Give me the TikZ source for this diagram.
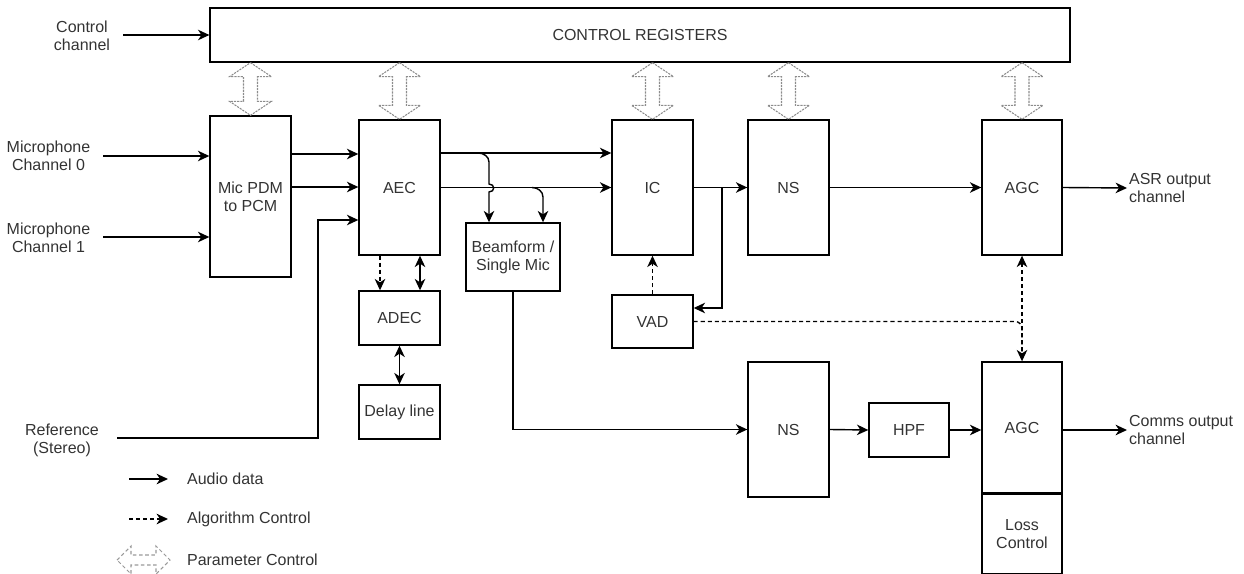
\documentclass[tikz,border=0pt]{standalone}
\usepackage{fontspec}
\setmainfont{Liberation Sans}
\usetikzlibrary{positioning, arrows.meta, calc}
\newcommand{\lbl}{\fontsize{9.1}{10.2}\selectfont\color{black!80}}

\begin{document}
\begin{tikzpicture}[x=0.02cm, y=-0.02cm,
  >={Stealth[length=6.5pt, width=6pt, inset=2pt]},
  blk/.style={draw, line width=0.8pt, inner sep=0pt, align=center, font=\lbl},
  txt/.style={align=center, inner sep=1pt, font=\lbl},
  aud/.style={->, line width=0.8pt},
  alg/.style={line width=0.8pt, dash pattern=on 2.3pt off 1.7pt},
  pctl/.style={draw=black!45, line width=0.6pt, dash pattern=on 1.2pt off 0.6pt},
  pleg/.style={draw=black!40, line width=0.6pt, dash pattern=on 2pt off 1.5pt}]
\useasboundingbox (0,0) rectangle (1244,574);
% blocks
\node[blk, minimum width=17.2cm, minimum height=1.08cm] (regs) at (640,35) {CONTROL REGISTERS};
\node[blk, minimum width=1.62cm, minimum height=3.22cm] (pdm) at (250.5,196.5) {Mic PDM\\to PCM};
\node[blk, minimum width=1.62cm, minimum height=2.7cm] (aec) at (399.5,187.5) {AEC};
\node[blk, minimum width=1.62cm, minimum height=1.08cm] (adec) at (399.5,318) {ADEC};
\node[blk, minimum width=1.62cm, minimum height=1.08cm] (delay) at (399.5,412) {Delay line};
\node[blk, minimum width=1.88cm, minimum height=1.36cm] (beam) at (513,257) {Beamform /\\Single Mic};
\node[blk, minimum width=1.62cm, minimum height=2.7cm] (ic) at (652.5,187.5) {IC};
\node[blk, minimum width=1.62cm, minimum height=1.06cm] (vad) at (652.5,321.5) {VAD};
\node[blk, minimum width=1.62cm, minimum height=2.7cm] (ns1) at (788.5,187.5) {NS};
\node[blk, minimum width=1.6cm, minimum height=2.7cm] (agc1) at (1022,187.5) {AGC};
\node[blk, minimum width=1.62cm, minimum height=2.7cm] (ns2) at (788.5,429.5) {NS};
\node[blk, minimum width=1.6cm, minimum height=1.08cm] (hpf) at (909,430) {HPF};
\node[blk, minimum width=1.6cm, minimum height=2.62cm] (agc2) at (1022,427.5) {AGC};
\node[blk, minimum width=1.6cm, minimum height=1.58cm, below=0pt of agc2] (loss) {Loss\\Control};
% labels
\node[txt] (ctl) at (82,36) {Control\\channel};
\node[txt] (mic0) at (48.5,156) {Microphone\\Channel 0};
\node[txt] (mic1) at (48.5,238) {Microphone\\Channel 1};
\node[txt] (ref) at (62,440) {Reference\\(Stereo)};
\node[txt, anchor=west, align=left] (asr) at (1127,188) {ASR output\\channel};
\node[txt, anchor=west, align=left] (comms) at (1127,430) {Comms output\\channel};
\node[txt, anchor=west] (lgaud) at (185,479) {Audio data};
\node[txt, anchor=west] (lgalg) at (185,519) {Algorithm Control};
\node[txt, anchor=west] (lgpar) at (185,560) {Parameter Control};
\coordinate (ctlin) at (123,35);
\coordinate (mic0in) at (103,156);
\coordinate (mic1in) at (103,237);
\coordinate (refin) at (117,438);
\coordinate (refup) at (318,220);
% inputs
\draw[aud] (ctlin) -- (regs.west |- ctlin);
\draw[aud] (mic0in) -- (pdm.west |- mic0in);
\draw[aud] (mic1in) -- (pdm.west |- mic1in);
\draw[aud] (pdm.east |- 0,154) -- (aec.west |- 0,154);
\draw[aud] (pdm.east |- 0,187) -- (aec.west |- 0,187);
\draw[aud] (refin) -| (refup) -- (aec.west |- refup);
% AEC and ADEC
\draw[->, alg] (380,0 |- aec.south) -- (380,0 |- adec.north);
\draw[<->, line width=0.8pt] (420,0 |- aec.south) -- (420,0 |- adec.north);
\draw[<->, line width=0.8pt] (adec) -- (delay);
% AEC to IC and Beamform
\draw[aud] (aec.east |- 0,153) -- (ic.west |- 0,153);
\draw[aud] (aec.east) -- (ic.west);
\draw[aud] (478,153) to[out=0, in=90] (489,162) -- (489,184)
  to[out=0, in=0, looseness=2] (489,192) -- (489,0 |- beam.north);
\draw[aud] (532,187.5) to[out=0, in=90] (543,197) -- (543,0 |- beam.north);
% IC, VAD, NS, AGC
\draw[aud] (ic.east) -- (ns1.west);
\draw[aud] (722,0 |- ic.east) |- (vad.east |- 0,308);
\draw[->, alg] (vad.north) -- (ic.south);
\draw[aud] (ns1.east) -- (agc1.west);
\draw[aud] (agc1.east) -- (asr.west);
\draw[<->, alg] (agc1.south) -- (agc2.north);
\draw[alg, rounded corners=0.14cm] (vad.east) -| (agc2.north);
% comms path
\draw[aud] (beam.south) |- (ns2.west);
\draw[aud] (ns2.east) -- (hpf.west);
\draw[aud] (hpf.east) -- (agc2.west |- hpf.east);
\draw[aud] (agc2.east |- hpf.east) -- (comms.west);
% parameter control
\foreach \b in {pdm, aec, ic, ns1, agc1}
  \draw[pctl] (regs.south -| \b.north) -- ++(21,14) -- ++(-14,0)
    -- ($(\b.north)+(7,-14)$) -- ++(14,0) -- (\b.north) -- ++(-21,-14)
    -- ++(14,0) -- ($(regs.south -| \b.north)+(-7,14)$) -- ++(-14,0) -- cycle;
% legend
\coordinate (lga) at (129,479);
\coordinate (lgb) at (129,519);
\coordinate (lgc) at (117,560);
\draw[aud] (lga) -- (lgaud.west -| 168,0);
\draw[->, alg] (lgb) -- (lgalg.west -| 168,0);
\draw[pleg] (lgc) -- ++(14,-14) -- ++(0,9) -- ++(25,0) -- ++(0,-9) -- ++(14,14)
  -- ++(-14,14) -- ++(0,-9) -- ++(-25,0) -- ++(0,9) -- cycle;
\end{tikzpicture}
\end{document}
